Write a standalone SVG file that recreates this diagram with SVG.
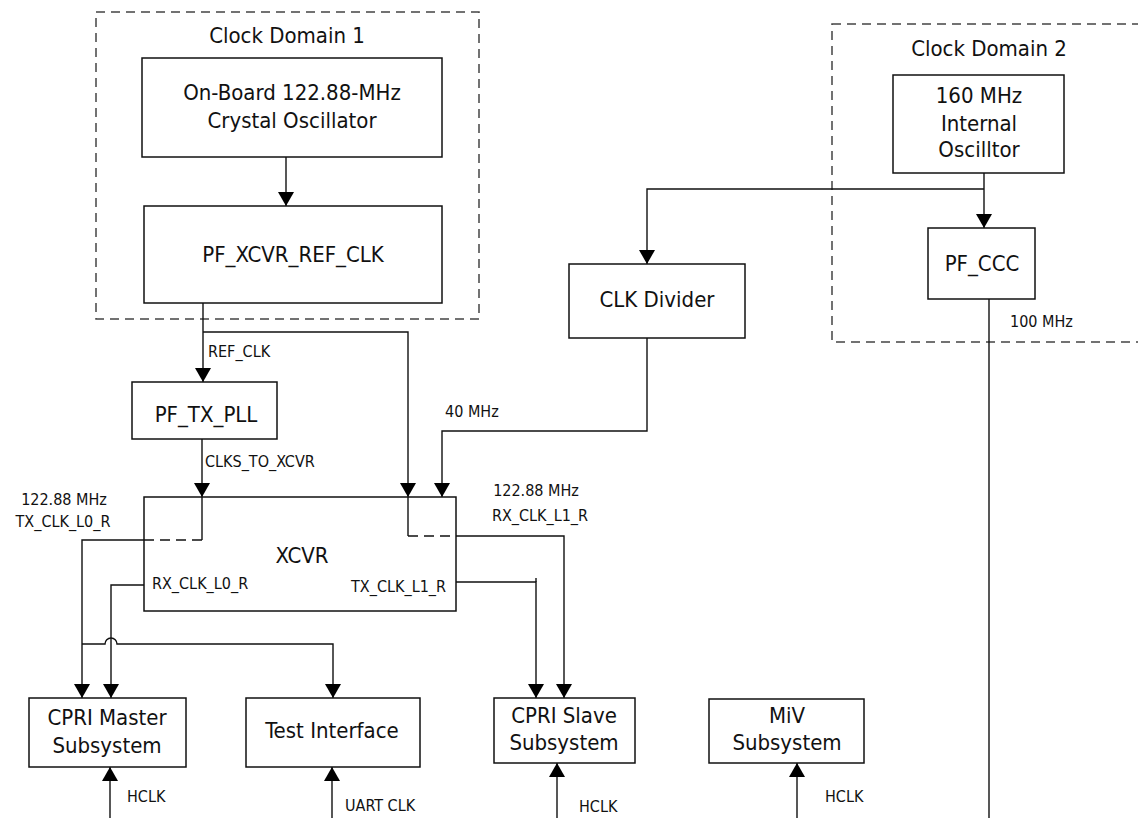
<svg xmlns="http://www.w3.org/2000/svg" width="1138" height="818" viewBox="0 0 1138 818">
<defs>
<style>
text{font-family:"DejaVu Sans Condensed","DejaVu Sans",sans-serif;font-stretch:semi-condensed;fill:#111;}
.big{font-size:22px;text-anchor:middle;}
.sm{font-size:16px;}
.box{fill:#fff;stroke:#111;stroke-width:1.5;}
.dom{fill:none;stroke:#444;stroke-width:1.5;stroke-dasharray:9,6;}
.ln{fill:none;stroke:#111;stroke-width:1.4;}
.dl{fill:none;stroke:#111;stroke-width:1.4;stroke-dasharray:10,6;}
.ar{marker-end:url(#ah);}
</style>
<marker id="ah" viewBox="0 0 14 16" refX="14" refY="8" markerWidth="14" markerHeight="16" markerUnits="userSpaceOnUse" orient="auto"><path d="M0,0 L14,8 L0,16 z" fill="#000"/></marker>
</defs>
<g id="domain1"><rect class="dom" x="96" y="12" width="383" height="307"/><text class="big" x="287" y="43">Clock Domain 1</text></g>
<g id="domain2"><rect class="dom" x="832" y="24" width="320" height="318"/><text class="big" x="989" y="56">Clock Domain 2</text></g>
<g id="connectors">
<path class="ln ar" d="M286,157 V206"/>
<path class="ln ar" d="M203,303 V382"/>
<path class="ln ar" d="M203,332 H408 V497"/>
<path class="ln" d="M408,497 V536"/>
<path class="dl" d="M408,536 H456"/>
<path class="ln ar" d="M456,536 H564 V698"/>
<path class="ln ar" d="M202,439 V497"/>
<path class="ln" d="M202,497 V540"/>
<path class="dl" d="M202,540 H144"/>
<path class="ln ar" d="M144,540 H82 V698"/>
<path class="ln ar" d="M144,585 H111 V698"/>
<path class="ln ar" d="M82,644 H105 A6,6 0 0 1 117,644 H333 V698"/>
<path class="ln ar" d="M456,582 H536 V698"/>
<path class="ln" d="M536,578 V582"/>
<path class="ln ar" d="M984,173 V228"/>
<path class="ln ar" d="M984,189 H647 V264"/>
<path class="ln ar" d="M647,338 V431 H442 V497"/>
<path class="ln" d="M989,299 V818"/>
<path class="ln ar" d="M110,818 V767"/>
<path class="ln ar" d="M332,818 V767"/>
<path class="ln ar" d="M557,818 V763"/>
<path class="ln ar" d="M797,818 V763"/>
</g>
<g id="crystal"><rect class="box" x="142" y="58" width="300" height="99"/><text class="big" x="292" y="100">On-Board 122.88-MHz</text><text class="big" x="292" y="128">Crystal Oscillator</text></g>
<g id="refclk"><rect class="box" x="144" y="206" width="298" height="97"/><text class="big" x="293" y="262">PF_XCVR_REF_CLK</text></g>
<g id="osc160"><rect class="box" x="893" y="75" width="171" height="98"/><text class="big" x="979" y="103">160 MHz</text><text class="big" x="979" y="131">Internal</text><text class="big" x="979" y="157">Oscilltor</text></g>
<g id="pfccc"><rect class="box" x="928" y="228" width="107" height="71"/><text class="big" x="982" y="271">PF_CCC</text></g>
<g id="clkdiv"><rect class="box" x="569" y="264" width="176" height="74"/><text class="big" x="657" y="307">CLK Divider</text></g>
<g id="txpll"><rect class="box" x="132" y="382" width="145" height="57"/><text class="big" x="206" y="422">PF_TX_PLL</text></g>
<g id="xcvr"><rect class="box" x="144" y="497" width="312" height="114" style="fill:none"/><text class="big" x="302" y="563">XCVR</text></g>
<g id="cprimaster"><rect class="box" x="29" y="698" width="157" height="69"/><text class="big" x="107" y="725">CPRI Master</text><text class="big" x="107" y="753">Subsystem</text></g>
<g id="testif"><rect class="box" x="246" y="698" width="174" height="69"/><text class="big" x="332" y="738">Test Interface</text></g>
<g id="cprislave"><rect class="box" x="494" y="698" width="141" height="65"/><text class="big" x="564" y="723">CPRI Slave</text><text class="big" x="564" y="750">Subsystem</text></g>
<g id="miv"><rect class="box" x="709" y="699" width="155" height="64"/><text class="big" x="787" y="723">MiV</text><text class="big" x="787" y="750">Subsystem</text></g>
<g id="labels">
<text class="sm" x="208" y="357">REF_CLK</text>
<text class="sm" x="205" y="467">CLKS_TO_XCVR</text>
<text class="sm" x="445" y="417">40 MHz</text>
<text class="sm" x="1010" y="327">100 MHz</text>
<text class="sm" x="64" y="505" text-anchor="middle">122.88 MHz</text>
<text class="sm" x="63" y="527" text-anchor="middle">TX_CLK_L0_R</text>
<text class="sm" x="536" y="496" text-anchor="middle">122.88 MHz</text>
<text class="sm" x="540" y="521" text-anchor="middle">RX_CLK_L1_R</text>
<text class="sm" x="152" y="589">RX_CLK_L0_R</text>
<text class="sm" x="446" y="592" text-anchor="end">TX_CLK_L1_R</text>
<text class="sm" x="127" y="802">HCLK</text>
<text class="sm" x="345" y="811">UART CLK</text>
<text class="sm" x="579" y="812">HCLK</text>
<text class="sm" x="825" y="802">HCLK</text>
</g>
</svg>
